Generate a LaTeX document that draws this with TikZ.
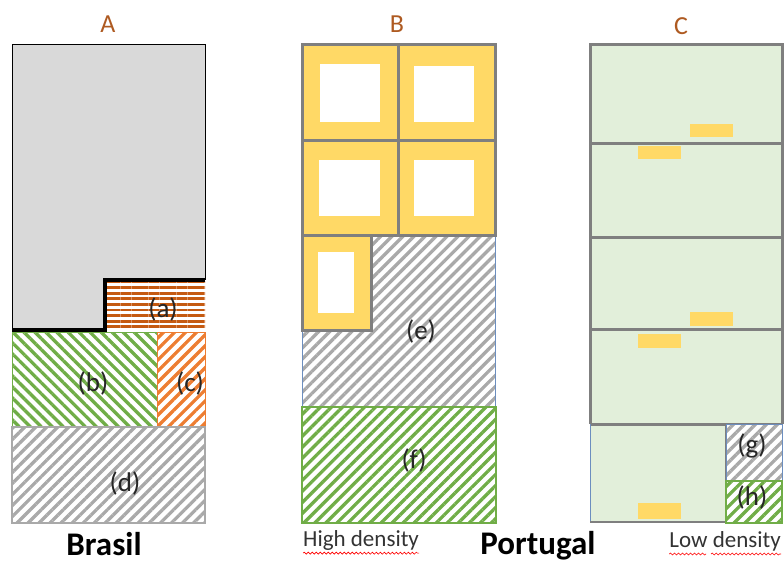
\documentclass[tikz,border=0pt]{standalone}
\usepackage{fontspec}
\setmainfont{Carlito}
\usetikzlibrary{patterns.meta,decorations.pathmorphing}
\definecolor{fillgray}{HTML}{D9D9D9}
\definecolor{hatchgray}{HTML}{A9A9A9}
\definecolor{hgreen}{HTML}{70AD47}
\definecolor{horange}{HTML}{ED7D31}
\definecolor{hdorange}{HTML}{C55A11}
\definecolor{cyellow}{HTML}{FFD966}
\definecolor{lgreen}{HTML}{E2EFDA}
\definecolor{bgray}{HTML}{7F7F7F}
\definecolor{bblue}{HTML}{6C8EBF}
\definecolor{tbrown}{HTML}{AE5A21}
\tikzset{
  ne/.style={pattern={Lines[angle=45,distance=7.8pt,line width=3.3pt]}},
  nw/.style={pattern={Lines[angle=-45,distance=7.8pt,line width=3.3pt]}},
  hz/.style={pattern={Lines[angle=0,distance=5.6pt,line width=2.8pt]}},
  title/.style={text=tbrown,font=\fontsize{26}{28}\selectfont},
  lab/.style={text=black!85,font=\fontsize{27}{29}\selectfont},
  country/.style={font=\fontsize{33}{35}\selectfont\bfseries,inner sep=0pt,anchor=base},
  dens/.style={text=black!80,font=\fontsize{23}{25}\selectfont,inner sep=0pt},
  cell/.style={draw=bgray,line width=3pt,fill=cyellow},
  hole/.style={fill=white},
  door/.style={fill=cyellow},
  squig/.style={draw=red,line width=0.6pt,decorate,decoration={snake,segment length=4pt,amplitude=1pt}}
}
\begin{document}
\begin{tikzpicture}[x=1pt,y=-1pt]
\useasboundingbox (0,0) rectangle (784,562);
% ---------------- Panel A
\fill[fillgray] (12,44) rectangle (205,330);
\draw[black,line width=1pt] (12,330) -- (12,44) -- (205,44) -- (205,280);
\fill[white] (105,280) rectangle (205,330);
\path[hz,pattern color=hdorange] (105,280) rectangle (205,330);
\draw[black,line width=4pt] (12,330) -- (105,330) -- (105,280) -- (205,280);
\path[nw,pattern color=hgreen] (12,332) rectangle (157,427);
\draw[hgreen,line width=1pt] (12,332) rectangle (157,427);
\path[ne,pattern color=horange] (157,332) rectangle (205,427);
\draw[horange,line width=1pt] (157,332) rectangle (205,427);
\path[ne,pattern color=hatchgray] (12,427) rectangle (205,523);
\draw[hatchgray,line width=1.2pt] (12,427) rectangle (205,523);
\node[title] (tA) at (108,24) {A};
\node[lab] (la) at (163,309) {(a)};
\node[lab] (lb) at (93,383) {(b)};
\node[lab] (lc) at (190,383) {(c)};
\node[lab] (ld) at (125,483) {(d)};
\node[country] (brasil) at (104,555) {Brasil};
% ---------------- Panel B
\path[ne,pattern color=hatchgray] (302,235) rectangle (495,407);
\draw[bblue,line width=0.8pt] (302,235) rectangle (495,407);
\draw[cell] (302,44) rectangle (398,140);
\draw[cell] (398,44) rectangle (495,140);
\draw[cell] (302,140) rectangle (398,235);
\draw[cell] (398,140) rectangle (495,235);
\fill[hole] (320,64) rectangle (380,122);
\fill[hole] (414,66) rectangle (474,122);
\fill[hole] (319,160) rectangle (380,216);
\fill[hole] (414,160) rectangle (474,216);
\draw[cell] (302,235) rectangle (371,330);
\fill[hole] (318,252) rectangle (354,313);
\path[ne,pattern color=hgreen] (302,407) rectangle (496,523);
\draw[hgreen,line width=1.2pt] (302,407) rectangle (496,523);
\node[title] (tB) at (397,24) {B};
\node[lab] (le) at (421,331) {(e)};
\node[lab] (lf) at (414,460) {(f)};
\node[dens,anchor=west] (hd) at (303,540) {High density};
\draw[squig] ([yshift=-3pt]hd.south west) -- ([yshift=-3pt]hd.south east);
\node[country] (portugal) at (538,554) {Portugal};
% ---------------- Panel C
\fill[lgreen] (590,44) rectangle (782,523);
\draw[bgray,line width=3pt] (590,424) -- (590,44) -- (782,44) -- (782,424);
\draw[bgray,line width=3pt] (590,143) -- (782,143);
\draw[bgray,line width=3pt] (590,237) -- (782,237);
\draw[bgray,line width=3pt] (590,329) -- (782,329);
\draw[bgray,line width=3pt] (590,424) -- (782,424);
\draw[bblue,line width=0.8pt] (590,424) -- (590,522);
\draw[bgray,line width=2pt] (590,522) -- (726,522);
\draw[bgray,line width=2pt] (726,424) -- (726,522);
\fill[white] (726,424) rectangle (782,523);
\path[ne,pattern color=hatchgray] (726,424) rectangle (782,481);
\draw[bblue,line width=1pt] (726,424) rectangle (782,481);
\path[ne,pattern color=hgreen] (726,481) rectangle (782,523);
\draw[hgreen,line width=1.2pt] (726,481) rectangle (782,523);
\fill[door] (690,124) rectangle (733,137);
\fill[door] (638,146) rectangle (681,159);
\fill[door] (690,312) rectangle (733,326);
\fill[door] (638,334) rectangle (681,348);
\fill[door] (638,503) rectangle (681,519);
\node[title] (tC) at (681,26) {C};
\node[lab] (lg) at (752,446) {(g)};
\node[lab] (lh) at (752,497) {(h)};
\node[dens,anchor=east] (ld2) at (781,541) {Low density};
\draw[squig] ([yshift=-3pt]ld2.south west) -- ([yshift=-3pt,xshift=-75pt]ld2.south east);
\draw[squig] ([yshift=-3pt,xshift=-70pt]ld2.south east) -- ([yshift=-3pt]ld2.south east);
\end{tikzpicture}
\end{document}
